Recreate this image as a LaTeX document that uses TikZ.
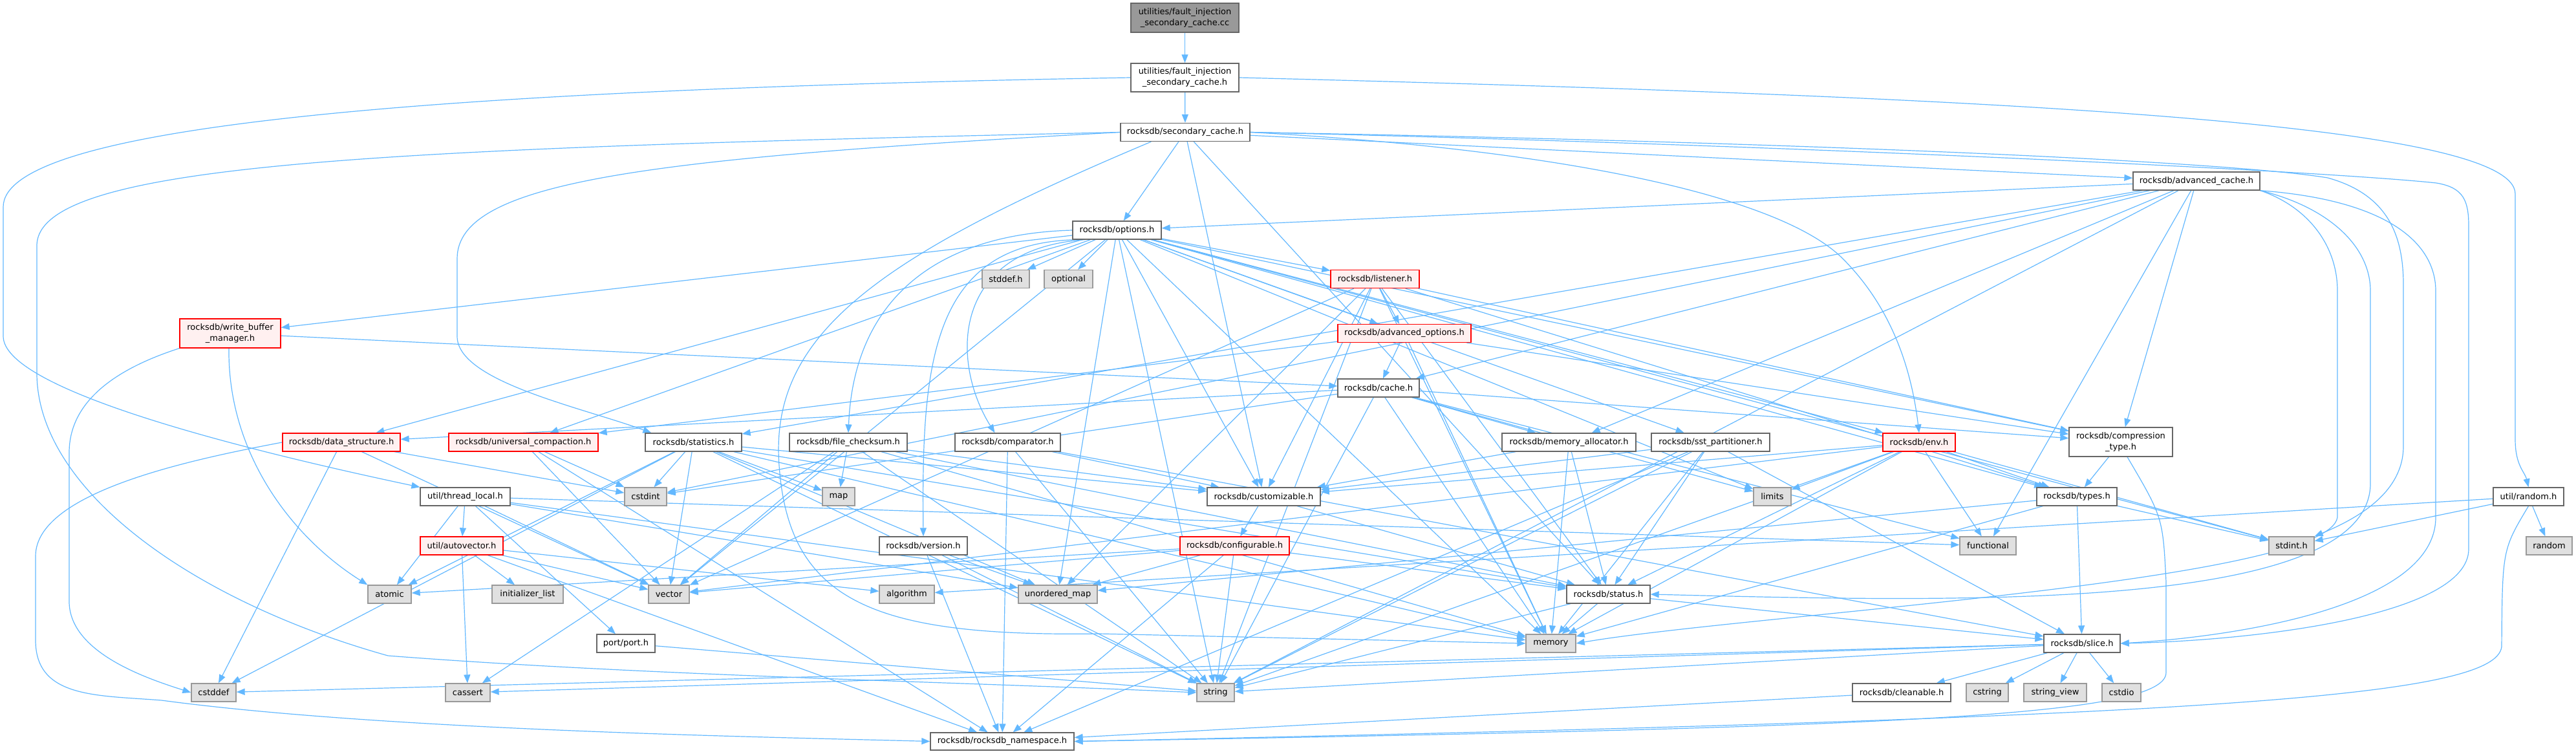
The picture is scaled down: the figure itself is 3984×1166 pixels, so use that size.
\documentclass[tikz,border=0pt]{standalone}
\usepackage{fontspec}
\setmainfont{DejaVu Sans}
\usetikzlibrary{arrows.meta}
\definecolor{edgec}{HTML}{63B8FF}
\definecolor{bgray}{HTML}{666666}
\definecolor{sysdraw}{HTML}{999999}
\definecolor{sysfill}{HTML}{E0E0E0}
\definecolor{redfill}{HTML}{FFF0F0}
\definecolor{redline}{HTML}{FF0000}
\pgfdeclarelayer{bg}
\pgfsetlayers{bg,main}
\tikzset{
  base/.style={rectangle, inner sep=0pt, align=center, font=\fontsize{13}{17}\selectfont, line width=1.3pt},
  wn/.style={base, draw=bgray, fill=white},
  rn/.style={base, draw=redline, fill=redfill},
  sn/.style={base, draw=sysdraw, fill=sysfill},
  tn/.style={base, draw=bgray, fill=sysdraw},
  ed/.style={draw=edgec, line width=1.2pt, -{Triangle[length=13pt,width=10pt]}},
}
\begin{document}
\begin{tikzpicture}[x=1pt,y=-1pt]
\useasboundingbox (0,0) rectangle (3984,1166);
% nodes
\node[tn, minimum width=167pt, minimum height=45pt] (cc) at (1832.5,27.5) {utilities/fault\_injection\\\_secondary\_cache.cc};
\node[wn, minimum width=167pt, minimum height=44pt] (fh) at (1832.5,120) {utilities/fault\_injection\\\_secondary\_cache.h};
\node[wn, minimum width=200pt, minimum height=28pt] (sc) at (1833,204.5) {rocksdb/secondary\_cache.h};
\node[wn, minimum width=137pt, minimum height=28pt] (opt) at (1727.5,356) {rocksdb/options.h};
\node[wn, minimum width=196pt, minimum height=28pt] (ac) at (3397,280) {rocksdb/advanced\_cache.h};
\node[sn, minimum width=73pt, minimum height=28pt] (stddef) at (1555.5,431.5) {stddef.h};
\node[sn, minimum width=75pt, minimum height=28pt] (optional) at (1652.5,431.5) {optional};
\node[rn, minimum width=137pt, minimum height=28pt] (listener) at (2126.5,431.5) {rocksdb/listener.h};
\node[rn, minimum width=156pt, minimum height=45pt] (wbm) at (356,515.5) {rocksdb/write\_buffer\\\_manager.h};
\node[rn, minimum width=206pt, minimum height=28pt] (advopt) at (2172,515.5) {rocksdb/advanced\_options.h};
\node[wn, minimum width=126pt, minimum height=28pt] (cache) at (2132,600) {rocksdb/cache.h};
\node[rn, minimum width=182pt, minimum height=28pt] (ds) at (528,684) {rocksdb/data\_structure.h};
\node[rn, minimum width=231pt, minimum height=28pt] (uc) at (809.5,684) {rocksdb/universal\_compaction.h};
\node[wn, minimum width=149pt, minimum height=28pt] (stat) at (1072.5,684) {rocksdb/statistics.h};
\node[wn, minimum width=182pt, minimum height=28pt] (fc) at (1312,684) {rocksdb/file\_checksum.h};
\node[wn, minimum width=163pt, minimum height=28pt] (comp) at (1558.5,684) {rocksdb/comparator.h};
\node[wn, minimum width=207pt, minimum height=28pt] (ma) at (2426.5,684) {rocksdb/memory\_allocator.h};
\node[wn, minimum width=183pt, minimum height=28pt] (sst) at (2645.5,684) {rocksdb/sst\_partitioner.h};
\node[rn, minimum width=112pt, minimum height=28pt] (env) at (2968,684) {rocksdb/env.h};
\node[wn, minimum width=160pt, minimum height=45pt] (ct) at (3280,683.5) {rocksdb/compression\\\_type.h};
\node[wn, minimum width=139pt, minimum height=28pt] (tl) at (719.5,768) {util/thread\_local.h};
\node[sn, minimum width=65pt, minimum height=28pt] (cstdint) at (998.5,768) {cstdint};
\node[sn, minimum width=50pt, minimum height=28pt] (map) at (1297,768) {map};
\node[wn, minimum width=175pt, minimum height=28pt] (cust) at (1954.5,768) {rocksdb/customizable.h};
\node[sn, minimum width=58pt, minimum height=28pt] (limits) at (2741,768) {limits};
\node[wn, minimum width=124pt, minimum height=28pt] (types) at (3212,768) {rocksdb/types.h};
\node[wn, minimum width=109pt, minimum height=28pt] (randomh) at (3910.5,768) {util/random.h};
\node[rn, minimum width=128pt, minimum height=28pt] (av) at (714,844) {util/autovector.h};
\node[wn, minimum width=136pt, minimum height=28pt] (ver) at (1428,844) {rocksdb/version.h};
\node[rn, minimum width=169pt, minimum height=28pt] (conf) at (1909.5,844) {rocksdb/configurable.h};
\node[sn, minimum width=87pt, minimum height=28pt] (functional) at (3074.5,844) {functional};
\node[sn, minimum width=70pt, minimum height=28pt] (stdinth) at (3544,844) {stdint.h};
\node[sn, minimum width=71pt, minimum height=28pt] (random) at (3942.5,844) {random};
\node[sn, minimum width=67pt, minimum height=28pt] (atomic) at (602.5,919) {atomic};
\node[sn, minimum width=110pt, minimum height=28pt] (il) at (816,919) {initializer\_list};
\node[sn, minimum width=63pt, minimum height=28pt] (vector) at (1034.5,919) {vector};
\node[sn, minimum width=85pt, minimum height=28pt] (algorithm) at (1402.5,919) {algorithm};
\node[sn, minimum width=122pt, minimum height=28pt] (umap) at (1636,919) {unordered\_map};
\node[wn, minimum width=129pt, minimum height=28pt] (status) at (2487.5,919) {rocksdb/status.h};
\node[wn, minimum width=90pt, minimum height=28pt] (port) at (968,995) {port/port.h};
\node[sn, minimum width=77pt, minimum height=28pt] (memory) at (2398.5,995) {memory};
\node[wn, minimum width=118pt, minimum height=28pt] (slice) at (3220,995) {rocksdb/slice.h};
\node[sn, minimum width=69pt, minimum height=28pt] (cstddef) at (330.5,1071) {cstddef};
\node[sn, minimum width=69pt, minimum height=28pt] (cassert) at (723.5,1071) {cassert};
\node[sn, minimum width=58pt, minimum height=28pt] (string) at (1880,1071) {string};
\node[wn, minimum width=152pt, minimum height=28pt] (cleanable) at (2941,1071) {rocksdb/cleanable.h};
\node[sn, minimum width=65pt, minimum height=28pt] (cstring) at (3073.5,1071) {cstring};
\node[sn, minimum width=97pt, minimum height=28pt] (sview) at (3178.5,1071) {string\_view};
\node[sn, minimum width=60pt, minimum height=28pt] (cstdio) at (3281,1071) {cstdio};
\node[wn, minimum width=222pt, minimum height=27pt] (ns) at (1550,1146.5) {rocksdb/rocksdb\_namespace.h};

\begin{pgfonlayer}{bg}
% top
\draw[ed] (cc) -- (fh);
\draw[ed] (fh) -- (sc);
\draw[ed] (fh.west) .. controls (600,140) and (5,200) .. (5,320) -- (5,520) .. controls (5,600) and (350,690) .. (tl.north west);
\draw[ed] (fh.east) .. controls (3100,150) and (3890,190) .. (3890,300) -- (3890,680) .. controls (3890,720) and (3905,730) .. (randomh.north);
% secondary cache
\foreach \t in {opt,ac,cust,status} \draw[ed] (sc) -- (\t);
\draw[ed] (sc.west) .. controls (1000,245) and (707,280) .. (707,400) -- (707,520) .. controls (707,590) and (900,630) .. ([xshift=10pt]stat.north west);
\draw[ed] (sc.west) .. controls (600,230) and (57,250) .. (57,380) -- (57,580) .. controls (60,760) and (300,930) .. (600,1014) .. controls (1000,1045) and (1500,1055) .. (string.west);
\draw[ed] ([xshift=48pt]sc.south west) .. controls (1350,400) and (1190,520) .. (1205,720) .. controls (1220,930) and (1350,985) .. (1700,980) -- (memory.west);
\draw[ed] (sc.east) .. controls (2800,225) and (3600,265) .. (3768,283) .. controls (3810,290) and (3818,310) .. (3818,350) -- (3818,849) .. controls (3818,950) and (3500,990) .. (slice.east);
\draw[ed] (sc.east) .. controls (2800,220) and (3450,250) .. (3600,275) .. controls (3690,300) and (3717,360) .. (3717,440) -- (3717,690) .. controls (3717,760) and (3650,800) .. (stdinth.north east);
\draw[ed] (sc.east) .. controls (2400,230) and (2750,300) .. (2850,400) .. controls (2920,470) and (2955,560) .. (env.north);
% advanced cache
\foreach \t in {opt,cache,ma,stat,string,functional,cstdint,ct} \draw[ed] (ac) -- (\t);
\draw[ed] (ac.south east) .. controls (3700,310) and (3767,380) .. (3767,450) -- (3767,800) .. controls (3767,940) and (3450,985) .. (slice.east);
\draw[ed] (ac.south east) .. controls (3600,320) and (3666,380) .. (3666,450) -- (3666,750) .. controls (3660,950) and (3000,930) .. (status.east);
\draw[ed] (ac.south east) .. controls (3570,320) and (3615,380) .. (3615,450) -- (3615,800) .. controls (3600,900) and (2700,950) .. (memory.east);
% options
\foreach \t in {stddef,optional,stdinth,limits,memory,string,umap,vector,advopt,ct,cust,ds,env,listener,sst,types,uc,wbm} \draw[ed] (opt) -- (\t);
\draw[ed] (opt.west) .. controls (1440,362) and (1320,470) .. (fc.north);
\draw[ed] ([xshift=20pt]opt.south west) .. controls (1470,385) and (1470,560) .. ([xshift=-20pt]comp.north);
\draw[ed] ([xshift=8pt]opt.south west) .. controls (1440,375) and (1425,560) .. (ver.north);
% listener
\foreach \t in {advopt,ct,cust,status,types,memory,string,umap,vector} \draw[ed] (listener) -- (\t);
% advanced options
\foreach \t in {cache,ct,uc,memory} \draw[ed] (advopt) -- (\t);
% cache
\foreach \t in {ma,ct,limits,ds,memory,string,cstdint,functional} \draw[ed] (cache) -- (\t);
% write buffer manager
\draw[ed] (wbm) -- (cache);
\draw[ed] ([xshift=-2pt]wbm.south) .. controls (352,700) and (450,830) .. (atomic.north west);
\draw[ed] (wbm.south west) .. controls (180,570) and (107,620) .. (107,700) -- (107,930) .. controls (107,1010) and (230,1050) .. (cstddef.west);
% data structure
\foreach \t in {cstdint,cstddef,vector} \draw[ed] (ds) -- (\t);
\draw[ed] (ds.west) .. controls (300,710) and (55,760) .. (55,860) -- (55,990) .. controls (55,1080) and (150,1075) .. (250,1083) .. controls (600,1130) and (1200,1140) .. (ns.west);
% universal compaction
\foreach \t in {cstdint,vector,ns} \draw[ed] (uc) -- (\t);
% statistics
\foreach \t in {cstdint,map,vector,cust,status,memory,string,umap,atomic,cstddef} \draw[ed] (stat) -- (\t);
% file checksum
\foreach \t in {map,vector,cust,status,memory,string,cassert} \draw[ed] (fc) -- (\t);
% comparator
\foreach \t in {cust,string,ns,slice} \draw[ed] (comp) -- (\t);
% memory allocator
\foreach \t in {cust,status,memory} \draw[ed] (ma) -- (\t);
% sst partitioner
\foreach \t in {cust,memory,string,slice,ns,status} \draw[ed] (sst) -- (\t);
% env
\foreach \t in {limits,cust,functional,stdinth,types,status,memory,string,vector} \draw[ed] (env) -- (\t);
% compression type
\draw[ed] (ct) -- (types);
\draw[ed] ([xshift=10pt]ct.south) .. controls (3345,800) .. (3350,900) -- (3350,1040) .. controls (3350,1110) and (2900,1125) .. (ns.east);
% thread local
\foreach \t in {atomic,av,port,vector,umap,functional,memory} \draw[ed] (tl) -- (\t);
% customizable
\foreach \t in {conf,status} \draw[ed] (cust) -- (\t);
% types
\foreach \t in {stdinth,slice,memory,umap} \draw[ed] (types) -- (\t);
% random
\foreach \t in {stdinth,random,algorithm} \draw[ed] (randomh) -- (\t);
\draw[ed] (randomh.south) .. controls (3870,850) .. (3869,1000) .. controls (3860,1080) and (3400,1110) .. (ns.east);
% autovector
\foreach \t in {il,cassert,vector,algorithm,ns} \draw[ed] (av) -- (\t);
% version
\foreach \t in {umap,ns,string} \draw[ed] (ver) -- (\t);
% configurable
\foreach \t in {atomic,string,umap,vector,ns,status} \draw[ed] (conf) -- (\t);
% status
\foreach \t in {memory,slice,string} \draw[ed] (status) -- (\t);
% port
\draw[ed] (port) -- (string);
% slice
\foreach \t in {cleanable,cstring,sview,cstdio,cassert,cstddef,string} \draw[ed] (slice) -- (\t);
% cleanable
\draw[ed] (cleanable) -- (ns);
\end{pgfonlayer}
\end{tikzpicture}
\end{document}
